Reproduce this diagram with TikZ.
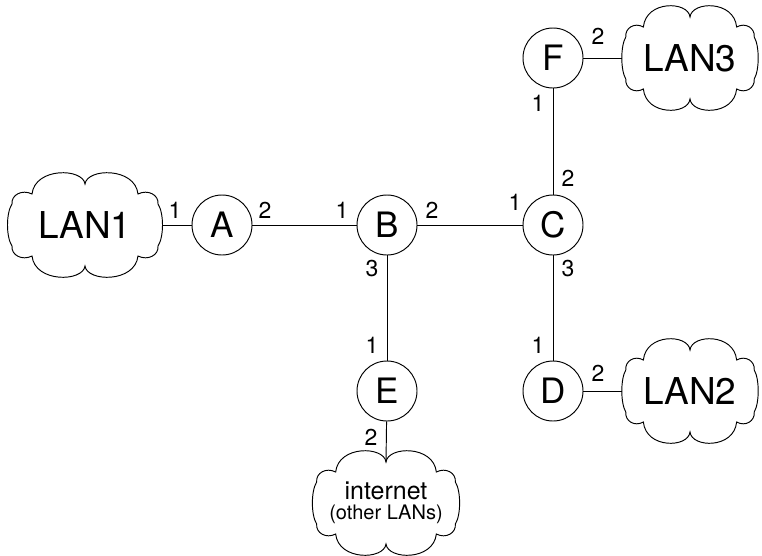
\documentclass[tikz,border=0pt]{standalone}
\usepackage{fontspec}
\setmainfont{TeX Gyre Heros}
\begin{document}
\begin{tikzpicture}[x=1pt,y=-1pt,line width=0.95pt,
  router/.style={draw,circle,minimum size=60pt,inner sep=0pt,font=\fontsize{35}{38}\selectfont},
  lantext/.style={inner sep=0pt,font=\fontsize{37}{40}\selectfont},
  port/.style={inner sep=0pt,font=\fontsize{23}{26}\selectfont},
  link/.style={draw},
  cloudshape/.pic={
    \draw (0,-41) .. controls (2,-57) and (50,-58) .. (53,-31)
      .. controls (63,-36) and (74,-30) .. (73,-21)
      .. controls (79,-12) and (79,12) .. (73,21)
      .. controls (74,30) and (63,36) .. (53,31)
      .. controls (50,58) and (2,57) .. (0,41)
      .. controls (-2,57) and (-50,58) .. (-53,31)
      .. controls (-63,36) and (-74,30) .. (-73,21)
      .. controls (-79,12) and (-79,-12) .. (-73,-21)
      .. controls (-74,-30) and (-63,-36) .. (-53,-31)
      .. controls (-50,-58) and (-2,-57) .. (0,-41) -- cycle;
    \coordinate (-t) at (0,-41);
    \coordinate (-l) at (-77.5,0);
    \coordinate (-r) at (77.5,0);
  }]
\useasboundingbox (0,0) rectangle (762,555);
% routers
\node[router] (A) at (222,225) {A};
\node[router] (B) at (387,225) {B};
\node[router] (C) at (553,225) {C};
\node[router] (D) at (553,391) {D};
\node[router] (E) at (387,391) {E};
\node[router] (F) at (553,58) {F};
% clouds
\pic (lan1c) at (85,225) {cloudshape};
\node[lantext] (lan1) at (85,225) {LAN1};
\pic[xscale=0.88] (lan3c) at (690,58) {cloudshape};
\node[lantext] (lan3) at (690,58) {LAN3};
\pic[xscale=0.88] (lan2c) at (690,391) {cloudshape};
\node[lantext] (lan2) at (690,391) {LAN2};
\pic[xscale=0.95] (inetc) at (386,503) {cloudshape};
\node[align=center,inner sep=0pt,font=\fontsize{25}{26}\selectfont] (inet) at (386,503)
  {internet\\[-6pt]{\fontsize{20}{22}\selectfont (other LANs)}};
% links
\draw[link] (lan1c-r) -- (A);
\draw[link] (A) -- (B);
\draw[link] (B) -- (C);
\draw[link] (B) -- (E);
\draw[link] (E) -- (inetc-t);
\draw[link] (C) -- (F);
\draw[link] (C) -- (D);
\draw[link] (F) -- (lan3c-l);
\draw[link] (D) -- (lan2c-l);
% port numbers
\node[port] (p1) at (175,210) {1};
\node[port] (p2) at (265,210) {2};
\node[port] (p3) at (342,210) {1};
\node[port] (p4) at (432,210) {2};
\node[port] (p5) at (515,202) {1};
\node[port] (p6) at (372,269) {3};
\node[port] (p7) at (372,345) {1};
\node[port] (p8) at (371,437) {2};
\node[port] (p9) at (568,178) {2};
\node[port] (p10) at (538,103) {1};
\node[port] (p11) at (568,269) {3};
\node[port] (p12) at (538,345) {1};
\node[port] (p13) at (598,373) {2};
\node[port] (p14) at (598,36) {2};
\end{tikzpicture}
\end{document}
